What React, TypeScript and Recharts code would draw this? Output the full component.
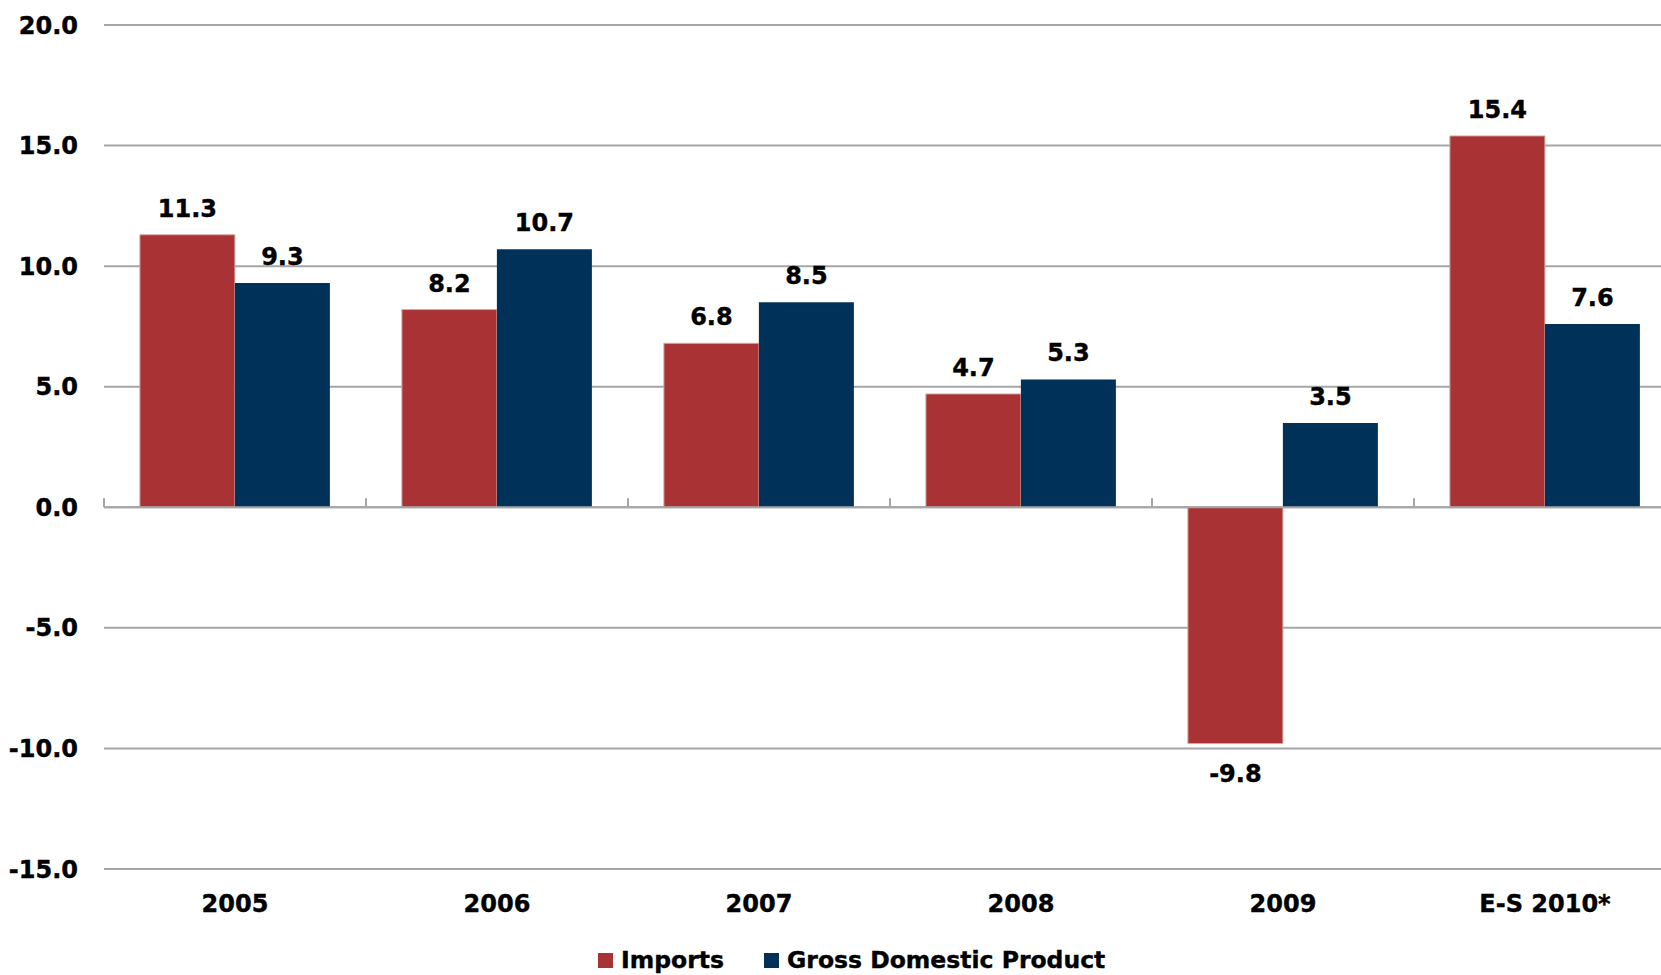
import React from "react";
import {
  BarChart,
  Bar,
  XAxis,
  YAxis,
  CartesianGrid,
  ReferenceLine,
  LabelList,
  Legend,
} from "recharts";

const categories = ["2005", "2006", "2007", "2008", "2009", "E-S 2010*"];
const imports = [11.3, 8.2, 6.8, 4.7, -9.8, 15.4];
const gdp = [9.3, 10.7, 8.5, 5.3, 3.5, 7.6];
const yTicks = [-15, -10, -5, 0, 5, 10, 15, 20];

const RED = "#A93334";
const BLUE = "#003259";
const GRID = "#A6A6A6";
const FONT = "'DejaVu Sans', Verdana, sans-serif";

const textStyle = {
  fontFamily: FONT,
  fontWeight: "bold" as const,
  fontSize: 24,
  fill: "#000",
  stroke: "#000",
  strokeWidth: 0.4,
};

const data = categories.map((c, i) => ({
  year: c,
  imports: imports[i],
  gdp: gdp[i],
}));

// Zero line with small upward tick marks on each category boundary
const ZeroAxis = (props: any) => {
  const { x1, x2, y1 } = props;
  const n = categories.length;
  const step = (x2 - x1) / n;
  const ticks = [];
  for (let i = 0; i <= n; i++) {
    const x = x1 + i * step;
    ticks.push(
      <line key={i} x1={x} x2={x} y1={y1 - 9} y2={y1} stroke={GRID} strokeWidth={2} />
    );
  }
  return (
    <g>
      <line x1={x1} x2={x2} y1={y1} y2={y1} stroke={GRID} strokeWidth={2} />
      {ticks}
    </g>
  );
};

// Value label: above positive bars, below negative ones
const ValueLabel = (props: any) => {
  const { x, y, width, height, value } = props;
  const top = Math.min(y, y + height);
  const bottom = Math.max(y, y + height);
  const cx = x + width / 2;
  const neg = value < 0;
  return (
    <text
      x={cx}
      y={neg ? bottom + 21 : top - 18}
      dy={neg ? "0.72em" : 0}
      textAnchor="middle"
      style={textStyle}
    >
      {Number(value).toFixed(1)}
    </text>
  );
};

const LegendContent = () => (
  <div
    style={{
      display: "flex",
      alignItems: "center",
      height: 46,
      transform: "translateY(8px)",
      fontFamily: FONT,
      fontWeight: "bold",
      fontSize: 23.5,
      color: "#000",
      WebkitTextStroke: "0.4px #000",
    }}
  >
    <span style={{ display: "inline-block", width: 15, height: 15, background: RED, marginRight: 8 }} />
    <span style={{ marginRight: 40 }}>Imports</span>
    <span style={{ display: "inline-block", width: 15, height: 15, background: BLUE, marginRight: 8 }} />
    <span>Gross Domestic Product</span>
  </div>
);

export default function App() {
  return (
    <div
      style={{
        position: "fixed",
        left: 0,
        top: 0,
        width: 1661,
        height: 975,
        overflow: "hidden",
        background: "#fff",
      }}
    >
      <BarChart
        width={1680}
        height={975}
        data={data}
        margin={{ top: 25, right: 4, bottom: 0, left: 0 }}
        barCategoryGap="13.7%"
        barGap={0}
      >
        <CartesianGrid vertical={false} stroke={GRID} strokeWidth={2} />
        <XAxis
          dataKey="year"
          axisLine={false}
          tickLine={false}
          tickSize={0}
          tickMargin={26}
          height={60}
          interval={0}
          tick={textStyle}
        />
        <YAxis
          width={104}
          domain={[-15, 20]}
          ticks={yTicks}
          axisLine={false}
          tickLine={false}
          tickSize={0}
          tickMargin={26}
          tickFormatter={(v: number) => v.toFixed(1)}
          tick={textStyle}
        />
        <ReferenceLine y={0} shape={ZeroAxis} />
        <Bar dataKey="imports" name="Imports" fill={RED} stroke="#D9A5A5" strokeWidth={1} isAnimationActive={false}>
          <LabelList dataKey="imports" content={ValueLabel} />
        </Bar>
        <Bar dataKey="gdp" name="Gross Domestic Product" fill={BLUE} isAnimationActive={false}>
          <LabelList dataKey="gdp" content={ValueLabel} />
        </Bar>
        <Legend
          verticalAlign="bottom"
          height={46}
          content={<LegendContent />}
          wrapperStyle={{ left: 598, width: "auto", bottom: 0 }}
        />
      </BarChart>
    </div>
  );
}
